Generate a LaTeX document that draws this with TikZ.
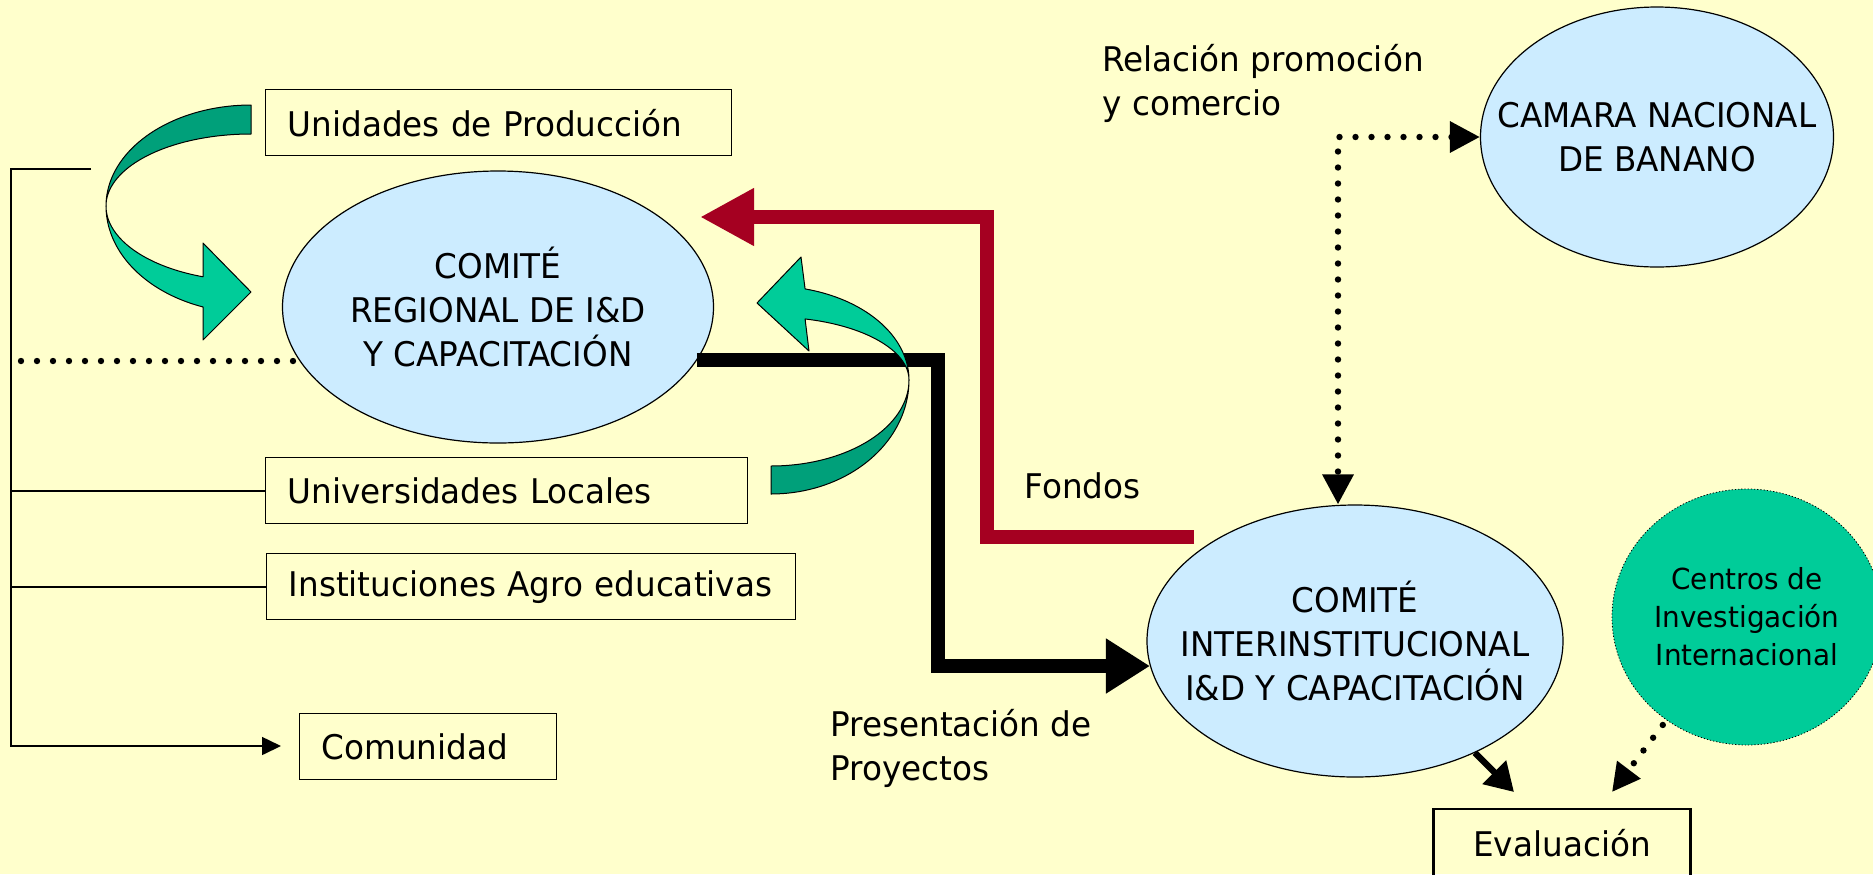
\documentclass[tikz,border=0pt]{standalone}
\usepackage{fontspec}
\setmainfont{DejaVu Sans}[FakeStretch=0.96]
\usetikzlibrary{positioning,shapes.geometric,arrows.meta}
\definecolor{fondo}{HTML}{FFFFCC}
\definecolor{celeste}{HTML}{CCECFF}
\definecolor{verdeclaro}{HTML}{00CC99}
\definecolor{verdeoscuro}{HTML}{00A07A}
\definecolor{rojovino}{HTML}{A50021}

\begin{document}
\begin{tikzpicture}[x=0.5pt, y=-0.5pt]
\tikzset{
    every node/.style = {font=\fontsize{17}{22}\selectfont},
    caja/.style = {draw, rectangle, line width=0.7pt, minimum height=33pt, inner xsep=11pt, align=left, anchor=north west},
    elipse/.style = {draw, ellipse, fill=celeste, line width=0.6pt, inner xsep=-50pt, inner ysep=-50pt, align=center},
    etiqueta/.style = {align=left, anchor=west, inner sep=0pt},
    linea/.style = {line width=0.8pt},
    punteado/.style = {line width=3.2pt, line cap=round, dash pattern=on 0pt off 8pt},
    cinta/.style = {draw=black, line width=0.5pt, line join=round},
    negro/.style = {line width=7pt, -{Triangle[length=22pt,width=26pt]}},
    rojo/.style = {draw=rojovino, line width=7pt, -{Triangle[length=27pt,width=27pt]}},
}

\useasboundingbox (0,0) rectangle (1873,874);
\fill[fondo] (0,0) rectangle (1873,874);

% -------------------------------------------------------
\node[caja, text width=211pt] (unidades) at (265,89) {Unidades de Producción};
\node[caja, text width=219pt] (universidades) at (265,457) {Universidades Locales};
\node[caja, text width=242.5pt] (instituciones) at (266,553) {Instituciones Agro educativas};
\node[caja, text width=106.5pt] (comunidad) at (299,713) {Comunidad};

\node[draw, rectangle, line width=1.3pt, minimum width=128.5pt, minimum height=34pt] (evaluacion) at (1562,843) {Evaluación};

\node[etiqueta] (relacion) at (1102,83) {Relación promoción\\y comercio};
\node[etiqueta] (fondos) at (1024,486) {Fondos};
\node[etiqueta] (presentacion) at (830,748) {Presentación de\\Proyectos};

% -------------------------------------------------------
\node[elipse, minimum width=215.5pt, minimum height=136pt] (regional) at (498,307) {COMITÉ\\REGIONAL DE I\&D\\Y CAPACITACIÓN};
\node[elipse, minimum width=208pt, minimum height=136pt] (inter) at (1355,641) {COMITÉ\\INTERINSTITUCIONAL\\I\&D Y CAPACITACIÓN};
\node[elipse, minimum width=176.5pt, minimum height=130pt] (camara) at (1657,137) {CAMARA NACIONAL\\DE BANANO};
\node[elipse, fill=verdeclaro, densely dotted, line width=0.4pt, minimum width=135pt, minimum height=128pt, font=\fontsize{14.5}{19}\selectfont] (centros) at (1747,617) {Centros de\\Investigación\\Internacional};

% -------------------------------------------------------
\coordinate (llaveArr) at (91,169);
\coordinate (llaveAb) at (11,746);
\coordinate (puntoIzq) at (21,361);
\coordinate (esqNegra) at (938,666);
\coordinate (rojoIni) at (1194,537);
\coordinate (esqRoja) at (987,217);
\coordinate (rojoFin) at (700,217);
\coordinate (esqRel) at (1338,137);
\coordinate (evalA) at (1514,792);
\coordinate (evalB) at (1612,792);

\draw[linea, -{Triangle[length=9.5pt,width=9pt]}, shorten >=9pt] (llaveArr) -| (llaveAb) -- (llaveAb -| comunidad.west);
\draw[linea] (llaveAb |- universidades.west) -- (universidades.west);
\draw[linea] (llaveAb |- instituciones.west) -- (instituciones.west);

\draw[punteado] (puntoIzq) -- (puntoIzq -| regional.195);

\draw[rojo] (rojoIni) -| (esqRoja) -- (rojoFin);
\draw[negro] (regional.345) -| (esqNegra) -- (esqNegra -| inter.187);

\draw[punteado, {Triangle[length=15pt,width=15pt]}-{Triangle[length=15pt,width=15pt]}] (camara.west) -- (esqRel) -- (esqRel |- inter.north);

\draw[line width=3.2pt, -{Triangle[length=14pt,width=16pt]}] (inter.317) -- (evalA);
\draw[punteado, shorten <=3pt, -{Triangle[length=14pt,width=14pt]}] (centros.232) -- (evalB);

% -------------------------------------------------------
% flechas curvas
\filldraw[fill=verdeoscuro, cinta]
    plot[domain=270:180, samples=40] ({251+145*cos(\x)},{206+101*sin(\x)})
    -- plot[domain=180:270, samples=40] ({251+145*cos(\x)},{206+72*sin(\x)}) -- cycle;
\filldraw[fill=verdeclaro, cinta]
    plot[domain=180:109.3, samples=40] ({251+145*cos(\x)},{206+107*sin(\x)})
    -- (203,340) -- (251,292) -- (203,243)
    -- plot[domain=109.3:180, samples=40] ({251+145*cos(\x)},{206+75*sin(\x)}) -- cycle;

\filldraw[fill=verdeoscuro, cinta]
    plot[domain=90:0, samples=40] ({771+138*cos(\x)},{380+114*sin(\x)})
    -- plot[domain=0:90, samples=40] ({771+138*cos(\x)},{380+86*sin(\x)}) -- cycle;
\filldraw[fill=verdeclaro, cinta]
    plot[domain=0:-75.7, samples=40] ({771+138*cos(\x)},{380+94*sin(\x)})
    -- (801,257) -- (757,303) -- (809,351)
    -- plot[domain=-75.7:0, samples=40] ({771+138*cos(\x)},{380+63*sin(\x)}) -- cycle;
\end{tikzpicture}
\end{document}
